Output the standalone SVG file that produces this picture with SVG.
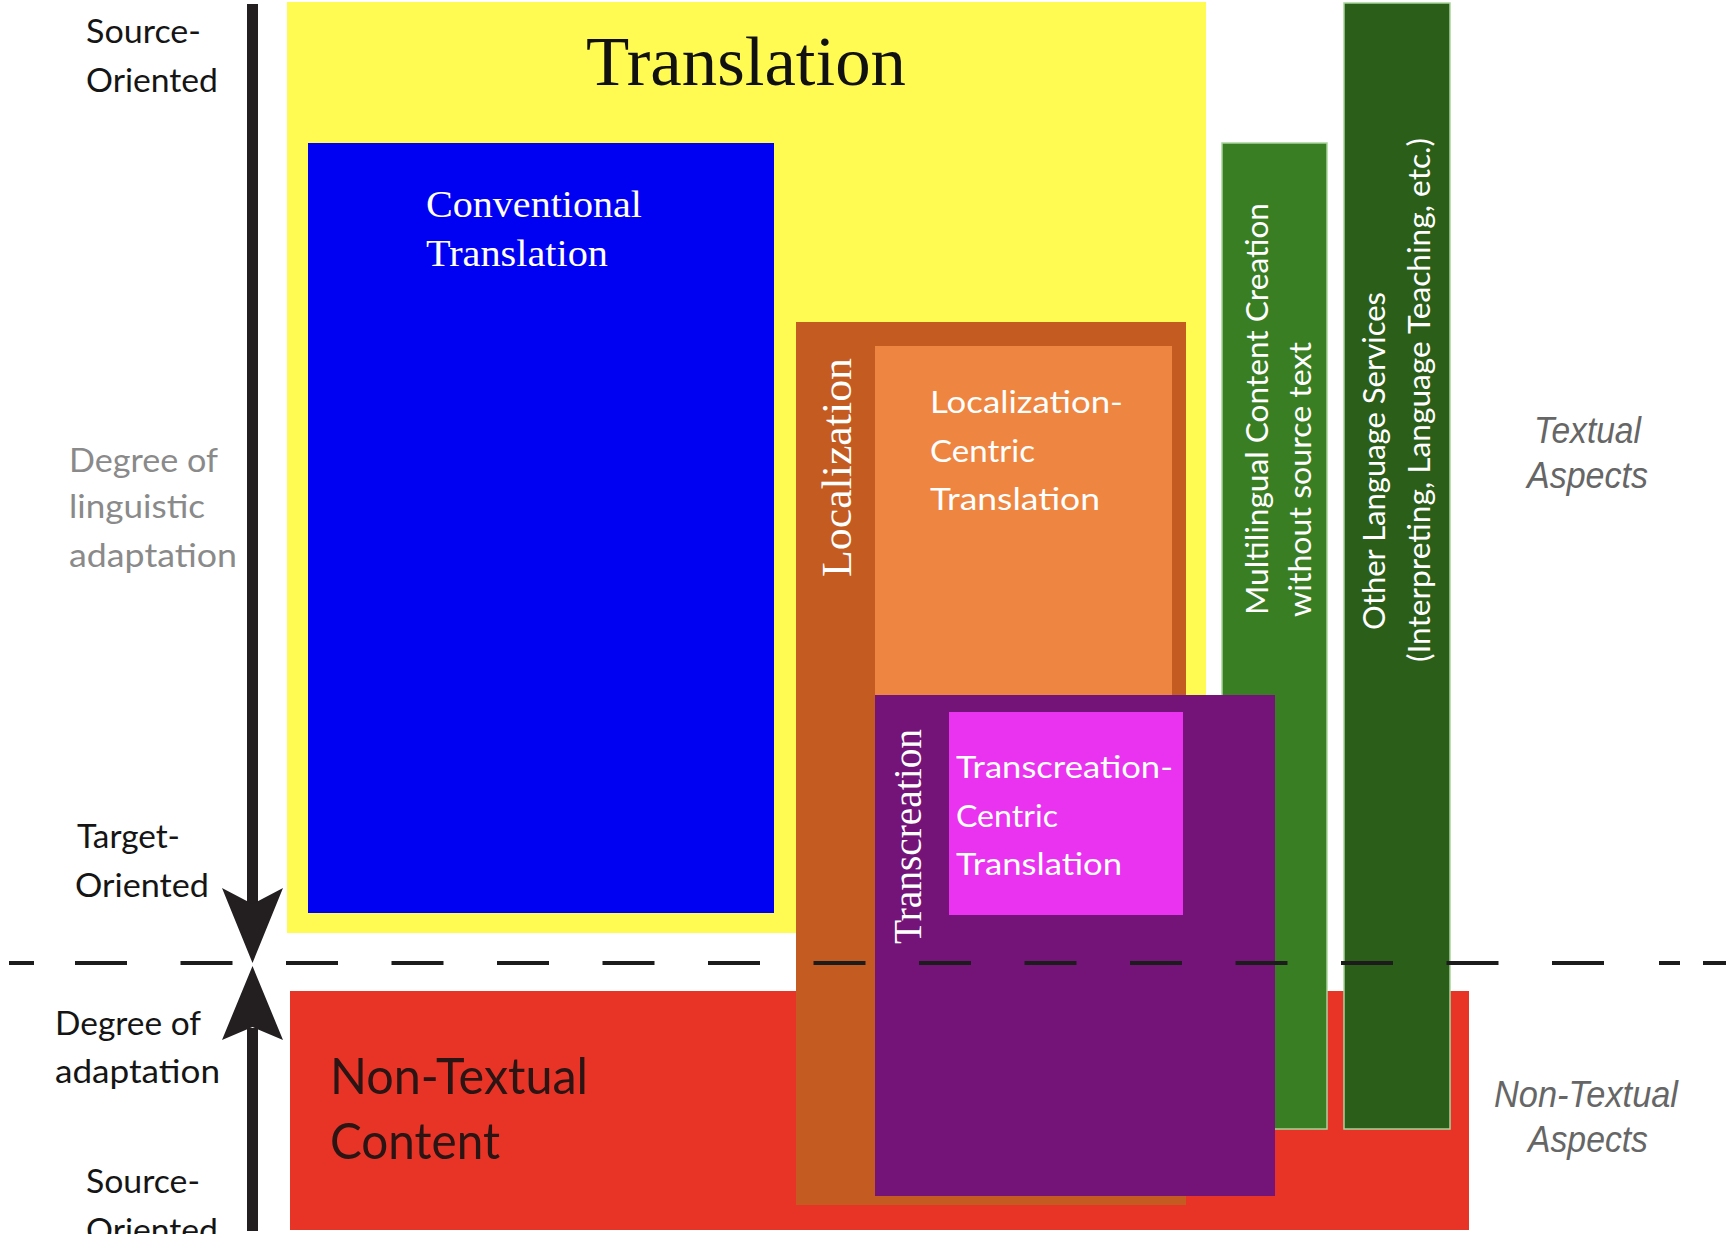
<svg xmlns="http://www.w3.org/2000/svg" width="1726" height="1234" viewBox="0 0 1726 1234">
<style>
.sans{font-family:Lato,"Open Sans","Noto Sans",sans-serif}
.serif{font-family:"Liberation Serif","DejaVu Serif",serif}
.ital{font-family:"Liberation Sans",Arial,sans-serif;font-style:italic;fill:#666}
.lbl{font-size:32px;fill:#151515}
.gray{font-size:32px;fill:#8a8a8a}
.w{fill:#ffffff}
.green{stroke:#a9d59c;stroke-width:1.5}
</style>
<rect width="1726" height="1234" fill="#ffffff"/>
<g id="translation">
<rect x="287" y="2" width="919" height="931" fill="#FFFB52"/>
<text class="serif" x="586" y="85" font-size="70" fill="#111" textLength="320" lengthAdjust="spacingAndGlyphs">Translation</text>
</g>
<g id="conventional">
<rect x="308" y="143" width="466" height="770" fill="#0000F2"/>
<text class="serif w" x="426" y="217" font-size="37" textLength="216" lengthAdjust="spacingAndGlyphs">Conventional</text>
<text class="serif w" x="426" y="266" font-size="37" textLength="182" lengthAdjust="spacingAndGlyphs">Translation</text>
</g>
<g id="nontextual">
<rect x="290" y="991" width="1179" height="239" fill="#E73426"/>
<text class="sans" x="330" y="1094" font-size="51" fill="#2a1414" textLength="258" lengthAdjust="spacingAndGlyphs">Non-Textual</text>
<text class="sans" x="330" y="1159" font-size="51" fill="#2a1414" textLength="170" lengthAdjust="spacingAndGlyphs">Content</text>
</g>
<g id="localization">
<rect x="796" y="322" width="390" height="883" fill="#C45C22"/>
<text class="serif w" transform="translate(851,577) rotate(-90)" font-size="42" textLength="219" lengthAdjust="spacingAndGlyphs">Localization</text>
</g>
<g id="localization-centric">
<rect x="875" y="346" width="297" height="350" fill="#EE8540"/>
<text class="sans w" x="930" y="413" font-size="31" textLength="193" lengthAdjust="spacingAndGlyphs">Localization-</text>
<text class="sans w" x="930" y="462" font-size="31" textLength="105" lengthAdjust="spacingAndGlyphs">Centric</text>
<text class="sans w" x="930" y="510" font-size="31" textLength="170" lengthAdjust="spacingAndGlyphs">Translation</text>
</g>
<g id="multilingual">
<rect class="green" x="1222" y="143" width="105" height="986" fill="#3A7E24"/>
<text class="sans w" transform="translate(1268,615) rotate(-90)" font-size="31" textLength="412" lengthAdjust="spacingAndGlyphs">Multilingual Content Creation</text>
<text class="sans w" transform="translate(1311,617) rotate(-90)" font-size="31" textLength="275" lengthAdjust="spacingAndGlyphs">without source text</text>
</g>
<g id="other-services">
<rect class="green" x="1344" y="3" width="106" height="1126" fill="#2A5E19"/>
<text class="sans w" transform="translate(1385,630) rotate(-90)" font-size="31" textLength="338" lengthAdjust="spacingAndGlyphs">Other Language Services</text>
<text class="sans w" transform="translate(1430,662) rotate(-90)" font-size="31" textLength="524" lengthAdjust="spacingAndGlyphs">(Interpreting, Language Teaching, etc.)</text>
</g>
<g id="transcreation">
<rect x="875" y="695" width="400" height="501" fill="#741479"/>
<text class="serif w" transform="translate(921,944) rotate(-90)" font-size="39" textLength="215" lengthAdjust="spacingAndGlyphs">Transcreation</text>
</g>
<g id="transcreation-centric">
<rect x="949" y="712" width="234" height="203" fill="#E933F0"/>
<text class="sans w" x="956" y="778" font-size="31" textLength="217" lengthAdjust="spacingAndGlyphs">Transcreation-</text>
<text class="sans w" x="956" y="827" font-size="31" textLength="102" lengthAdjust="spacingAndGlyphs">Centric</text>
<text class="sans w" x="956" y="875" font-size="31" textLength="166" lengthAdjust="spacingAndGlyphs">Translation</text>
</g>
<g id="connectors">
<path d="M9 963H34M75 963H127M180.5 963H232.5M286 963H338M391.5 963H443.5M497 963H549M602.5 963H654.5M708 963H760M813.5 963H865.5M919 963H971M1024.5 963H1076.5M1130 963H1182M1235.5 963H1287.5M1341 963H1393M1446.5 963H1498.5M1552 963H1604M1659 963H1680M1703 963H1726" stroke="#1c1c1c" stroke-width="4" fill="none"/>
<rect x="247" y="4" width="11" height="900" fill="#231f20"/>
<rect x="247" y="1028" width="11" height="203" fill="#231f20"/>
<polygon points="222,888 252.5,963 283,888 252.5,904" fill="#231f20"/>
<polygon points="222,1040 252.5,966 283,1040 252.5,1027" fill="#231f20"/>
</g>
<g id="axis-labels">
<text class="sans lbl" x="86" y="43" textLength="115" lengthAdjust="spacingAndGlyphs">Source-</text>
<text class="sans lbl" x="86" y="92" textLength="132" lengthAdjust="spacingAndGlyphs">Oriented</text>
<text class="sans gray" x="69" y="472" textLength="149" lengthAdjust="spacingAndGlyphs">Degree of</text>
<text class="sans gray" x="69" y="518" textLength="136" lengthAdjust="spacingAndGlyphs">linguistic</text>
<text class="sans gray" x="69" y="567" textLength="168" lengthAdjust="spacingAndGlyphs">adaptation</text>
<text class="sans lbl" x="77" y="848" textLength="103" lengthAdjust="spacingAndGlyphs">Target-</text>
<text class="sans lbl" x="75" y="897" textLength="134" lengthAdjust="spacingAndGlyphs">Oriented</text>
<text class="sans lbl" x="55" y="1035" textLength="146" lengthAdjust="spacingAndGlyphs">Degree of</text>
<text class="sans lbl" x="55" y="1083" textLength="165" lengthAdjust="spacingAndGlyphs">adaptation</text>
<text class="sans lbl" x="86" y="1193" textLength="114" lengthAdjust="spacingAndGlyphs">Source-</text>
<text class="sans lbl" x="86" y="1242" textLength="132" lengthAdjust="spacingAndGlyphs">Oriented</text>
</g>
<g id="aspect-labels">
<text class="ital" x="1534" y="443" font-size="37" textLength="107" lengthAdjust="spacingAndGlyphs">Textual</text>
<text class="ital" x="1527" y="488" font-size="37" textLength="121" lengthAdjust="spacingAndGlyphs">Aspects</text>
<text class="ital" x="1494" y="1107" font-size="37" textLength="184" lengthAdjust="spacingAndGlyphs">Non-Textual</text>
<text class="ital" x="1528" y="1152" font-size="37" textLength="120" lengthAdjust="spacingAndGlyphs">Aspects</text>
</g>
</svg>
